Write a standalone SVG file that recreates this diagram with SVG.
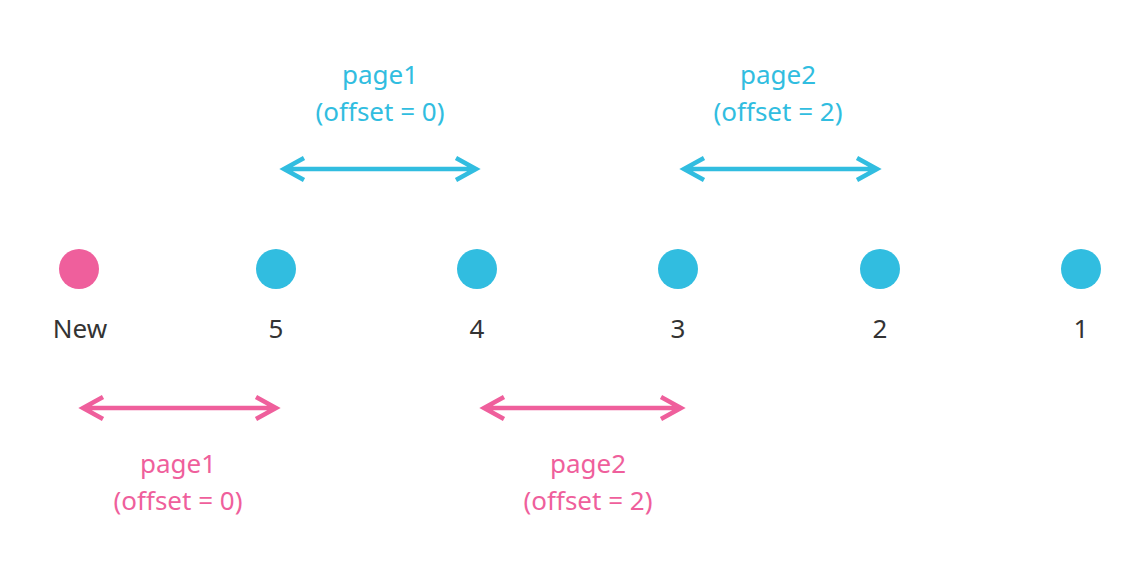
<svg xmlns="http://www.w3.org/2000/svg" width="1141" height="572" viewBox="0 0 1141 572">
<style>
text{font-family:"Source Sans Pro","Noto Sans","Open Sans",sans-serif;font-size:26px;text-anchor:middle}
.lbl{fill:#333}
.b{fill:#31bde0}
.p{fill:#ef5f9c}
.bl{stroke:#31bde0;stroke-width:4.5;fill:none}
.pl{stroke:#ef5f9c;stroke-width:4.5;fill:none}
</style>
<rect width="1141" height="572" fill="#fff"/>
<g id="connectors">
<g class="bl">
<path d="M284 169H476M304 158L284 169L304 180M456 158L476 169L456 180"/>
<path d="M684 169H877M704 158L684 169L704 180M857 158L877 169L857 180"/>
</g>
<g class="pl">
<path d="M83 408H276M103 397L83 408L103 419M256 397L276 408L256 419"/>
<path d="M484 408H681M504 397L484 408L504 419M661 397L681 408L661 419"/>
</g>
</g>
<g id="node-new"><circle cx="79" cy="269" r="20" fill="#ef5f9c"/><text class="lbl" x="80" y="338">New</text></g>
<g id="node-5"><circle cx="276" cy="269" r="20" fill="#31bde0"/><text class="lbl" x="276" y="338">5</text></g>
<g id="node-4"><circle cx="477" cy="269" r="20" fill="#31bde0"/><text class="lbl" x="477" y="338">4</text></g>
<g id="node-3"><circle cx="678" cy="269" r="20" fill="#31bde0"/><text class="lbl" x="678" y="338">3</text></g>
<g id="node-2"><circle cx="880" cy="269" r="20" fill="#31bde0"/><text class="lbl" x="880" y="338">2</text></g>
<g id="node-1"><circle cx="1081" cy="269" r="20" fill="#31bde0"/><text class="lbl" x="1081" y="338">1</text></g>
<g id="label-top-1" class="b"><text x="380" y="84">page1</text><text x="380" y="121">(offset = 0)</text></g>
<g id="label-top-2" class="b"><text x="778" y="84">page2</text><text x="778" y="121">(offset = 2)</text></g>
<g id="label-bot-1" class="p"><text x="178" y="473">page1</text><text x="178" y="510">(offset = 0)</text></g>
<g id="label-bot-2" class="p"><text x="588" y="473">page2</text><text x="588" y="510">(offset = 2)</text></g>
</svg>
